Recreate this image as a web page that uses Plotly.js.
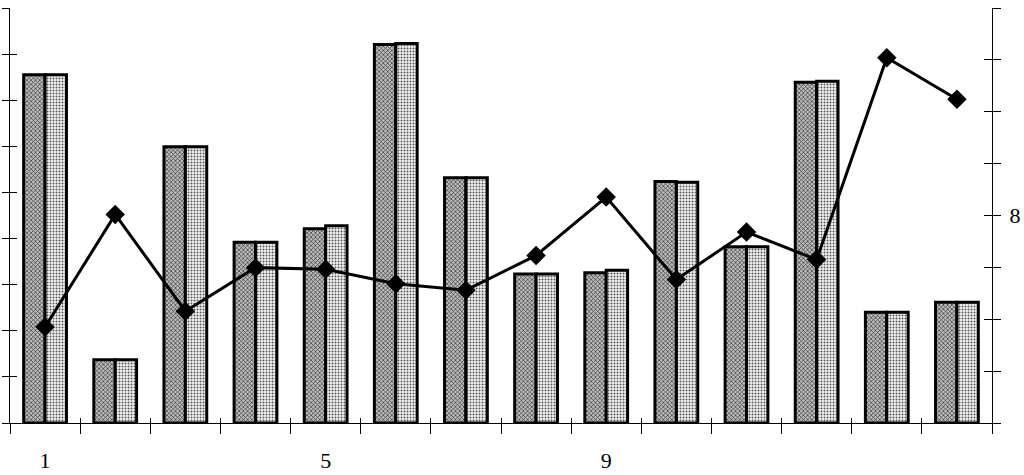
<!DOCTYPE html>
<html>
<head>
<meta charset="utf-8">
<script src="https://cdn.plot.ly/plotly-3.0.1.min.js"></script>
<style>html,body{margin:0;padding:0;background:#fff;}#chart{width:1024px;height:475px;}</style>
</head>
<body>
<div id="chart"></div>
<script>
const categories = [1,2,3,4,5,6,7,8,9,10,11,12,13,14];
const seriesA = [7.55,1.37,5.99,3.92,4.21,8.21,5.32,3.23,3.26,5.24,3.82,7.39,2.40,2.62];
const seriesB = [7.55,1.37,5.99,3.92,4.28,8.23,5.32,3.23,3.31,5.22,3.82,7.41,2.40,2.62];
const lineValues = [3.70,8.04,4.31,5.99,5.93,5.37,5.12,6.46,8.71,5.53,7.36,6.30,14.08,12.48];
const xTickVals = [1,5,9];
const xTickText = ['1','5','9'];
const xBoundaries = [0.5,1.5,2.5,3.5,4.5,5.5,6.5,7.5,8.5,9.5,10.5,11.5,12.5,13.5,14.5];
const leftTicks = [0,1,2,3,4,5,6,7,8,9];
const rightTicks = [0,2,4,6,8,10,12,14,16];
const rightTickText = ['','','','','8','','','',''];

const font = {family:'"Liberation Serif", "DejaVu Serif", serif', size:22, color:'#000'};
const dummy = (xa, ya) => ({x:[1], y:[0], xaxis:xa, yaxis:ya, type:'scatter', mode:'markers',
  marker:{opacity:0}, hoverinfo:'skip', showlegend:false});

const traces = [
  {x:categories, y:seriesA, type:'bar', xaxis:'x', yaxis:'y',
   marker:{color:'#aaa', line:{color:'#000', width:3},
     pattern:{shape:'x', size:3, solidity:0.4, fgcolor:'#333', bgcolor:'#bdbdbd'}}, showlegend:false},
  {x:categories, y:seriesB, type:'bar', xaxis:'x', yaxis:'y',
   marker:{color:'#ddd', line:{color:'#000', width:3},
     pattern:{shape:'.', size:3, solidity:0.35, fgcolor:'#555', bgcolor:'#f4f4f4'}}, showlegend:false},
  {x:categories, y:lineValues, type:'scatter', mode:'lines+markers', xaxis:'x', yaxis:'y2',
   line:{color:'#000', width:3}, marker:{symbol:'diamond', size:15, color:'#000'}, showlegend:false},
  dummy('x2','y3'), dummy('x3','y4'), dummy('x','y5')
];

const common = {showgrid:false, zeroline:false, linecolor:'#000', tickcolor:'#000', tickfont:font};
const layout = {
  width:1024, height:475,
  margin:{l:10, r:32, t:8, b:52},
  paper_bgcolor:'#fff', plot_bgcolor:'#fff',
  barmode:'group', bargap:0.39, bargroupgap:0,
  xaxis:Object.assign({}, common, {range:[0.5,14.5], tickmode:'array', tickvals:xTickVals, ticktext:xTickText,
     ticks:'', showline:true, linewidth:1, ticklabelstandoff:18}),
  xaxis2:Object.assign({}, common, {range:[0.5,14.5], overlaying:'x', anchor:'y3', tickmode:'array', tickvals:xBoundaries,
     ticks:'outside', ticklen:10, tickwidth:1, showticklabels:false, showline:false}),
  xaxis3:Object.assign({}, common, {range:[0.5,14.5], overlaying:'x', anchor:'y4', tickmode:'array', tickvals:xBoundaries,
     ticks:'inside', ticklen:5, tickwidth:1, showticklabels:false, showline:false}),
  yaxis:Object.assign({}, common, {range:[0,9], tickmode:'array', tickvals:leftTicks, ticks:'outside', ticklen:7,
     tickwidth:1, showticklabels:false, showline:true, linewidth:1}),
  yaxis3:Object.assign({}, common, {range:[0,9], overlaying:'y', anchor:'x2', tickmode:'array', tickvals:leftTicks, ticks:'inside', ticklen:7,
     tickwidth:1, showticklabels:false, showline:false}),
  yaxis4:Object.assign({}, common, {range:[0,9], overlaying:'y', anchor:'x3', visible:false}),
  yaxis2:Object.assign({}, common, {range:[0,16], overlaying:'y', side:'right', anchor:'x', tickmode:'array',
     tickvals:rightTicks, ticktext:rightTickText, ticks:'outside', ticklen:8, tickwidth:1, showline:true, linewidth:1,
     ticklabelstandoff:4}),
  yaxis5:Object.assign({}, common, {range:[0,16], overlaying:'y', side:'right', anchor:'x', tickmode:'array',
     tickvals:rightTicks, ticks:'inside', ticklen:8, tickwidth:1, showticklabels:false, showline:false})
};
Plotly.newPlot('chart', traces, layout, {displayModeBar:false, staticPlot:true});
</script>
</body>
</html>
